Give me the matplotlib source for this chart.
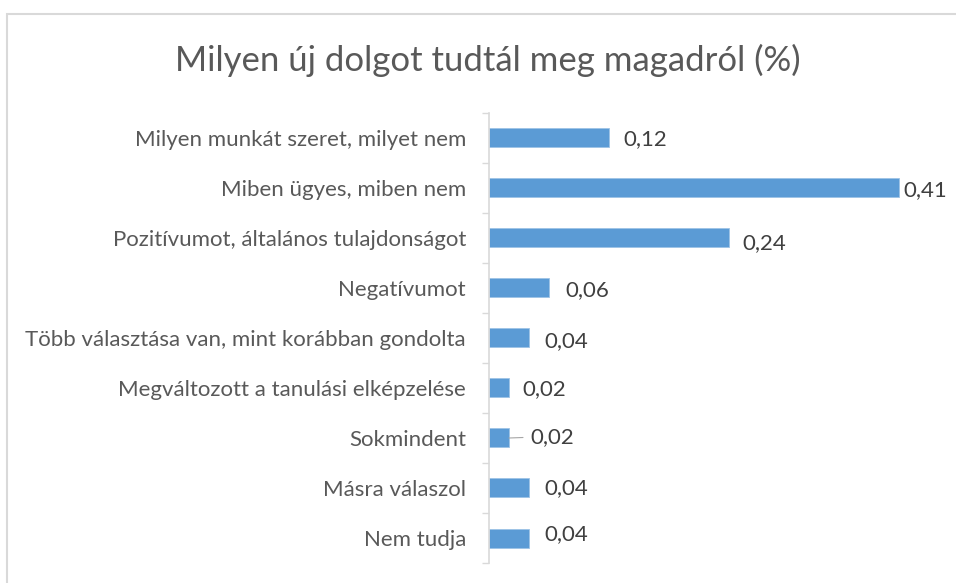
import matplotlib
matplotlib.use("Agg")
import matplotlib.pyplot as plt
from matplotlib.patches import Rectangle

categories = [
    "Milyen munkát szeret, milyet nem",
    "Miben ügyes, miben nem",
    "Pozitívumot, általános tulajdonságot",
    "Negatívumot",
    "Több választása van, mint korábban gondolta",
    "Megváltozott a tanulási elképzelése",
    "Sokmindent",
    "Másra válaszol",
    "Nem tudja",
]
values = [0.12, 0.41, 0.24, 0.06, 0.04, 0.02, 0.02, 0.04, 0.04]
value_labels = ["0,12", "0,41", "0,24", "0,06", "0,04", "0,02", "0,02", "0,04", "0,04"]
title = "Milyen új dolgot tudtál meg magadról (%)"

# label offsets in pixels (dx, dy) — Excel-like label placement
label_dx = [14, 4, 13, 16, 15, 13, 21, 15, 15]
label_dy = [-1, -2, -5, -2, -3, -1, 1, 0, 4]

plt.rcParams['font.family'] = ['Lato', 'DejaVu Sans']
W, H = 956, 583
fig = plt.figure(figsize=(W / 100, H / 100), dpi=100)

# chart border
fig.patches.append(Rectangle((7 / W, -0.1), 1.2, 1 - 14 / H + 0.1, transform=fig.transFigure,
                             fill=False, edgecolor="#d9d9d9", linewidth=1.5))

ax = fig.add_axes([489 / W, 1 - 563 / H, 450 / W, 450 / H])
n = len(categories)
ypos = list(range(n))
bar_color = "#5b9bd5"
ax.barh(ypos, values, height=0.38, color=bar_color, edgecolor="#9dc3e6", linewidth=0.6)
ax.set_ylim(n - 0.5, -0.5)
ax.set_xlim(0, 0.45)

ax.set_yticks(ypos)
ax.set_yticklabels(categories, fontsize=16, color="#595959")
ax.tick_params(axis="y", which="major", length=0, pad=16.5)
ax.set_yticks([i - 0.5 for i in range(n + 1)], minor=True)
ax.tick_params(axis="y", which="minor", length=5, color="#d9d9d9", width=1)
ax.set_xticks([])
for s in ["top", "right", "bottom"]:
    ax.spines[s].set_visible(False)
ax.spines["left"].set_color("#d9d9d9")
ax.spines["left"].set_linewidth(1.2)

for i, (v, lab) in enumerate(zip(values, value_labels)):
    ax.annotate(lab, xy=(v, i), xytext=(label_dx[i] * 0.72, label_dy[i] * 0.72),
                textcoords="offset points", ha="left", va="center",
                fontsize=16, color="#404040")

# leader line for Sokmindent label
i = categories.index("Sokmindent")
ax.annotate("", xy=(values[i], i), xytext=(values[i] + 0.014, i - 0.01),
            arrowprops=dict(arrowstyle="-", color="#a6a6a6", lw=0.8, shrinkA=0, shrinkB=0))

fig.text(488 / W, 1 - 60 / H, title, ha="center", va="center", fontsize=25,
         color="#595959")

fig.savefig("out.png", dpi=100)
